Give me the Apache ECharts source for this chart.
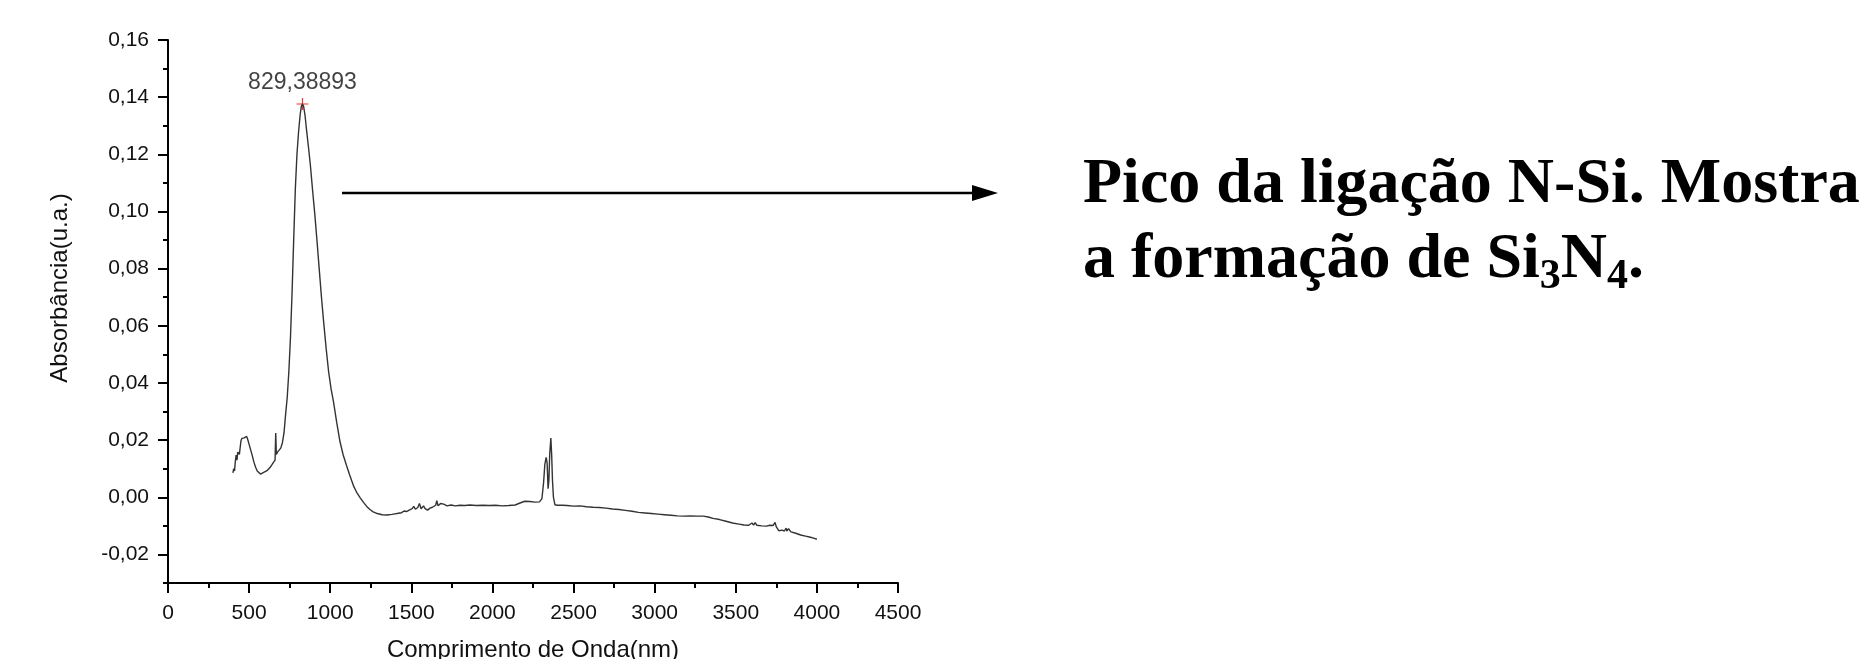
<!DOCTYPE html>
<html>
<head>
<meta charset="utf-8">
<script src="https://cdn.jsdelivr.net/npm/echarts@6/dist/echarts.min.js"></script>
<style>
  html, body { margin: 0; padding: 0; background: #fff; }
  #chart { width: 1859px; height: 659px; }
</style>
</head>
<body>
<div id="chart"></div>
<script>
// ---- data ----
const wavelength = [
  400, 405, 410, 415, 420, 425, 430, 435, 440, 445, 450, 455, 460, 465, 470, 475, 480, 485, 490, 495,
  500, 510, 520, 530, 540, 550, 560, 570, 580, 590, 600, 610, 620, 630, 640, 650, 660, 664, 668, 675,
  685, 695, 705, 715, 725, 735, 745, 755, 765, 775, 785, 795, 805, 815, 822, 829, 836, 845, 855, 865,
  878, 891, 905, 918, 932, 946, 960, 975, 990, 1005, 1020, 1040, 1060, 1080, 1100, 1120, 1145, 1165, 1185, 1205,
  1225, 1245, 1265, 1290, 1320, 1350, 1380, 1400, 1420, 1440, 1455, 1462, 1470, 1490, 1505, 1515, 1525, 1540, 1550, 1555,
  1560, 1575, 1585, 1600, 1615, 1630, 1650, 1657, 1665, 1680, 1690, 1700, 1720, 1745, 1770, 1800, 1830, 1860, 1900, 1940,
  1980, 2020, 2060, 2100, 2140, 2170, 2200, 2230, 2260, 2290, 2305, 2315, 2323, 2331, 2337, 2343, 2348, 2353, 2360, 2365,
  2370, 2376, 2385, 2400, 2430, 2460, 2500, 2540, 2580, 2620, 2660, 2700, 2740, 2780, 2820, 2860, 2900, 2940, 2980, 3020,
  3060, 3100, 3140, 3180, 3220, 3260, 3300, 3330, 3360, 3400, 3440, 3480, 3520, 3550, 3580, 3600, 3610, 3620, 3630, 3640,
  3660, 3690, 3710, 3730, 3742, 3750, 3765, 3785, 3800, 3810, 3815, 3825, 3840, 3870, 3900, 3930, 3960, 3980, 4000
];
const absorbance = [
  0.0085, 0.0100, 0.0092, 0.0125, 0.0148, 0.0130, 0.0158, 0.0162, 0.0150, 0.0175, 0.0198, 0.0206, 0.0200, 0.0212, 0.0208, 0.0214, 0.0210, 0.0213, 0.0205, 0.0195,
  0.0185, 0.0165, 0.0145, 0.0122, 0.0105, 0.0092, 0.0086, 0.0081, 0.0084, 0.0087, 0.0090, 0.0093, 0.0098, 0.0105, 0.0113, 0.0122, 0.0130, 0.0225, 0.0150, 0.0158,
  0.0165, 0.0172, 0.0190, 0.0225, 0.0290, 0.0350, 0.0440, 0.0560, 0.0720, 0.0905, 0.1080, 0.1200, 0.1280, 0.1340, 0.1368, 0.1376, 0.1368, 0.1335, 0.1280, 0.1230,
  0.1160, 0.1076, 0.0990, 0.0900, 0.0800, 0.0700, 0.0610, 0.0520, 0.0440, 0.0380, 0.0335, 0.0262, 0.0195, 0.0148, 0.0112, 0.0078, 0.0038, 0.0015, -0.0002, -0.0018,
  -0.0032, -0.0043, -0.0051, -0.0057, -0.0061, -0.0062, -0.0060, -0.0058, -0.0056, -0.0054, -0.0048, -0.0042, -0.0050, -0.0044, -0.0040, -0.0032, -0.0042, -0.0036, -0.0022, -0.0016,
  -0.0040, -0.0030, -0.0040, -0.0045, -0.0038, -0.0035, -0.0028, -0.0012, -0.0030, -0.0022, -0.0028, -0.0024, -0.0030, -0.0027, -0.0030, -0.0028, -0.0029, -0.0027, -0.0029, -0.0028,
  -0.0029, -0.0028, -0.0030, -0.0029, -0.0027, -0.0020, -0.0014, -0.0015, -0.0017, -0.0016, -0.0005, 0.0050, 0.0115, 0.0140, 0.0120, 0.0030, 0.0060, 0.0150, 0.0207, 0.0150,
  0.0060, 0.0000, -0.0026, -0.0028, -0.0028, -0.0029, -0.0031, -0.0030, -0.0033, -0.0035, -0.0036, -0.0038, -0.0041, -0.0043, -0.0046, -0.0049, -0.0053, -0.0055, -0.0057, -0.0059,
  -0.0061, -0.0063, -0.0065, -0.0066, -0.0065, -0.0066, -0.0066, -0.0069, -0.0074, -0.0078, -0.0084, -0.0090, -0.0094, -0.0097, -0.0098, -0.0090, -0.0097, -0.0089, -0.0098, -0.0094,
  -0.0100, -0.0101, -0.0098, -0.0099, -0.0088, -0.0104, -0.0117, -0.0115, -0.0118, -0.0108, -0.0118, -0.0110, -0.0121, -0.0126, -0.0132, -0.0136, -0.0140, -0.0143, -0.0147
];
const peakX = 829;
const peakY = 0.1376;
const peakLabel = '829,38893';
const yTickValues = [-0.02, 0.00, 0.02, 0.04, 0.06, 0.08, 0.10, 0.12, 0.14, 0.16];
const xTitle = 'Comprimento de Onda(nm)';
const yTitle = 'Absorbância(u.a.)';
const noteLine1 = 'Pico da ligação N-Si. Mostra';
const noteLine2Parts = ['a formação de Si', '3', 'N', '4', '.'];

// ---- build ----
const seriesData = wavelength.map((w, i) => [w, absorbance[i]]);
const fmtY = v => v.toFixed(2).replace('.', ',');
const fmtX = v => String(v);

const chart = echarts.init(document.getElementById('chart'), null, { renderer: 'canvas' });

// measure text widths for subscript layout
const mctx = document.createElement('canvas').getContext('2d');
const bigFont = 'bold 64px "Liberation Serif"';
const subFont = 'bold 42px "Liberation Serif"';
const noteX = 1083;
const line1Mid = 185;
const line2Mid = 260;
const subShift = 17;
const line2Elems = [];
let cx = noteX;
noteLine2Parts.forEach((t, i) => {
  const isSub = (i === 1 || i === 3);
  mctx.font = isSub ? subFont : bigFont;
  line2Elems.push({
    type: 'text',
    x: cx,
    y: isSub ? line2Mid + subShift : line2Mid,
    style: {
      text: t,
      font: isSub ? subFont : bigFont,
      fill: '#000',
      align: 'left',
      verticalAlign: 'middle'
    }
  });
  cx += mctx.measureText(t).width;
});

const axisColor = '#000';
const labelStyle = { color: '#111', fontSize: 21, fontFamily: '"Liberation Sans", Arial, sans-serif' };

const option = {
  backgroundColor: '#fff',
  animation: false,
  grid: { left: 168, right: 961, top: 40, bottom: 76 },
  xAxis: {
    type: 'value',
    min: 0, max: 4500, interval: 500,
    axisLine: { show: true, onZero: false, lineStyle: { color: axisColor, width: 2 } },
    axisTick: { show: true, inside: false, length: 10, lineStyle: { color: axisColor, width: 2 } },
    minorTick: { show: true, splitNumber: 2, length: 5, lineStyle: { color: axisColor, width: 2 } },
    axisLabel: Object.assign({ margin: 20, formatter: fmtX }, labelStyle),
    splitLine: { show: false },
    minorSplitLine: { show: false }
  },
  yAxis: [
    {
      type: 'value',
      min: -0.03, max: 0.16, interval: 0.01,
      position: 'left',
      axisLine: { show: true, onZero: false, lineStyle: { color: axisColor, width: 2 } },
      axisTick: { show: true, inside: false, length: 5, lineStyle: { color: axisColor, width: 2 } },
      axisLabel: { show: false },
      splitLine: { show: false }
    },
    {
      type: 'value',
      min: -0.03, max: 0.16,
      position: 'left',
      offset: 0,
      axisLine: { show: false, onZero: false },
      axisTick: { show: true, inside: false, length: 10, customValues: yTickValues, lineStyle: { color: axisColor, width: 2 } },
      axisLabel: Object.assign({ margin: 19, customValues: yTickValues, formatter: fmtY }, labelStyle),
      splitLine: { show: false }
    }
  ],
  series: [
    {
      type: 'line',
      data: seriesData,
      xAxisIndex: 0,
      yAxisIndex: 0,
      showSymbol: false,
      symbol: 'none',
      lineStyle: { color: '#333', width: 1.4 },
      silent: true
    },
    {
      type: 'scatter',
      data: [[peakX, peakY]],
      xAxisIndex: 0,
      yAxisIndex: 0,
      symbol: 'path://M9,0H11V9H20V11H11V20H9V11H0V9H9Z',
      symbolSize: 12,
      itemStyle: { color: '#e00000' },
      label: {
        show: true,
        position: 'top',
        distance: 4,
        formatter: () => peakLabel,
        color: '#111',
        fontSize: 23,
        fontFamily: '"Liberation Sans", Arial, sans-serif'
      },
      silent: true
    }
  ],
  graphic: [
    {
      type: 'text',
      x: 60, y: 288,
      rotation: Math.PI / 2,
      style: {
        text: yTitle,
        fill: '#111',
        font: '24px "Liberation Sans", Arial, sans-serif',
        align: 'center',
        verticalAlign: 'middle'
      }
    },
    {
      type: 'text',
      x: 533, y: 650,
      style: {
        text: xTitle,
        fill: '#111',
        font: '24px "Liberation Sans", Arial, sans-serif',
        align: 'center',
        verticalAlign: 'middle'
      }
    },
    {
      type: 'line',
      shape: { x1: 342, y1: 193, x2: 975, y2: 193 },
      style: { stroke: '#000', lineWidth: 2.5 }
    },
    {
      type: 'polygon',
      shape: { points: [[972, 185], [998, 193], [972, 201]] },
      style: { fill: '#000' }
    },
    {
      type: 'text',
      x: noteX, y: line1Mid,
      style: {
        text: noteLine1,
        font: bigFont,
        fill: '#000',
        align: 'left',
        verticalAlign: 'middle'
      }
    }
  ].concat(line2Elems)
};

chart.setOption(option);
</script>
</body>
</html>
